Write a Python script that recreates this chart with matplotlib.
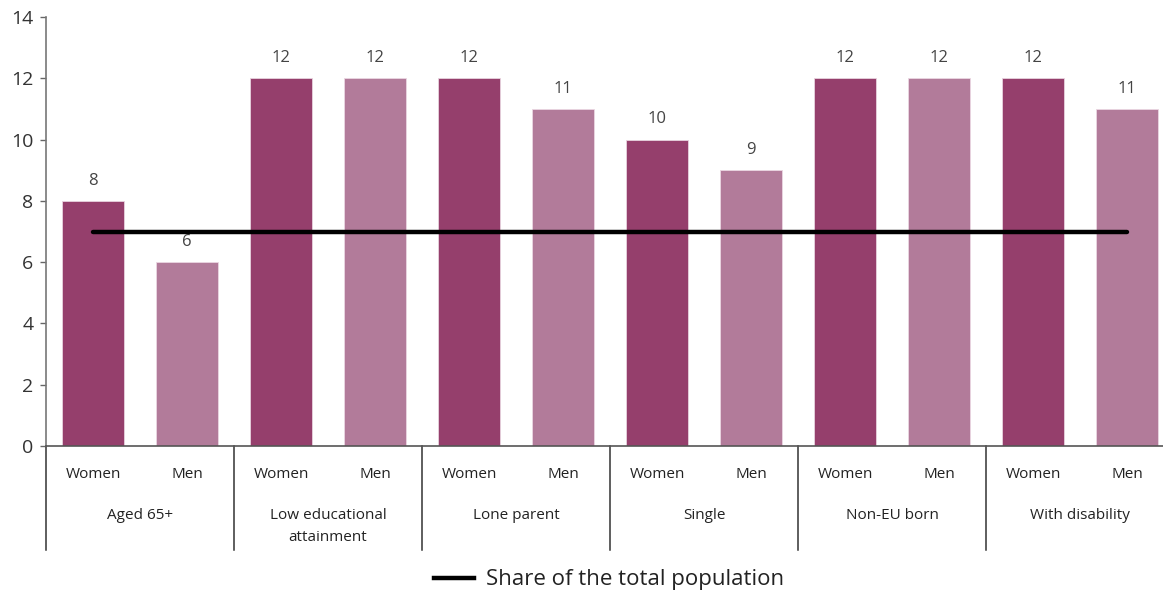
import matplotlib
matplotlib.use("Agg")
import matplotlib.pyplot as plt
from matplotlib.lines import Line2D

groups = ["Aged 65+", "Low educational\nattainment", "Lone parent",
          "Single", "Non-EU born", "With disability"]
sexes = ["Women", "Men"]
women = [8, 12, 12, 10, 12, 12]
men = [6, 12, 11, 9, 12, 11]
total_share = 7

WOMEN_COLOR = "#953F6C"
MEN_COLOR = "#B27B9A"
TEXT_COLOR = "#333333"

plt.rcParams["font.family"] = ["Open Sans", "DejaVu Sans"]

fig = plt.figure(figsize=(11.63, 5.95), dpi=100)
ax = fig.add_axes([46 / 1163, 149 / 595, 1128 / 1163, 429 / 595])

n = len(groups)
x_women = [2 * i for i in range(n)]
x_men = [2 * i + 1 for i in range(n)]
bar_w = 0.67

ax.bar(x_women, women, width=bar_w, color=WOMEN_COLOR,
       edgecolor="#e8d3de", linewidth=0.6)
ax.bar(x_men, men, width=bar_w, color=MEN_COLOR,
       edgecolor="#ead7e2", linewidth=0.6)

for xs, vals in ((x_women, women), (x_men, men)):
    for x, v in zip(xs, vals):
        ax.text(x, v + 0.4, f"{v}", ha="center", va="bottom",
                fontsize=12, color="#444444")

# horizontal reference line for the whole population
ax.plot([x_women[0], x_men[-1]], [total_share, total_share],
        color="black", lw=3.2, solid_capstyle="round", zorder=3)

ax.set_xlim(-0.5, 2 * n - 0.5)
ax.set_ylim(0, 14)
ax.set_yticks(range(0, 15, 2))
ax.tick_params(axis="y", labelsize=14, colors="#666666", length=4,
               width=1, labelcolor=TEXT_COLOR, pad=5)
ax.set_xticks([])
for side in ("top", "right"):
    ax.spines[side].set_visible(False)
ax.spines["left"].set_color("#777777")
ax.spines["bottom"].set_color("#555555")
ax.spines["left"].set_linewidth(1.2)
ax.spines["bottom"].set_linewidth(1.2)

# two-level category axis
trans = ax.get_xaxis_transform()
for i, g in enumerate(groups):
    for x, s in ((x_women[i], sexes[0]), (x_men[i], sexes[1])):
        ax.text(x, -28 / 429, s, transform=trans, ha="center", va="center",
                fontsize=11, color="#222222")
    ax.text((x_women[i] + x_men[i]) / 2, -62 / 429, g, transform=trans,
            ha="center", va="top", fontsize=11, color="#222222",
            linespacing=1.65)
    ax.plot([2 * i - 0.5, 2 * i - 0.5], [0, -104 / 429], transform=trans,
            color="#333333", lw=1.1, clip_on=False)

handle = Line2D([], [], color="black", lw=3.2)
fig.legend([handle], ["Share of the total population"],
           loc="center", bbox_to_anchor=(609 / 1163, 1 - 580 / 595),
           frameon=False, fontsize=16, handlelength=1.8,
           handletextpad=0.55, labelcolor="#222222")

fig.savefig("out.png", dpi=100)
